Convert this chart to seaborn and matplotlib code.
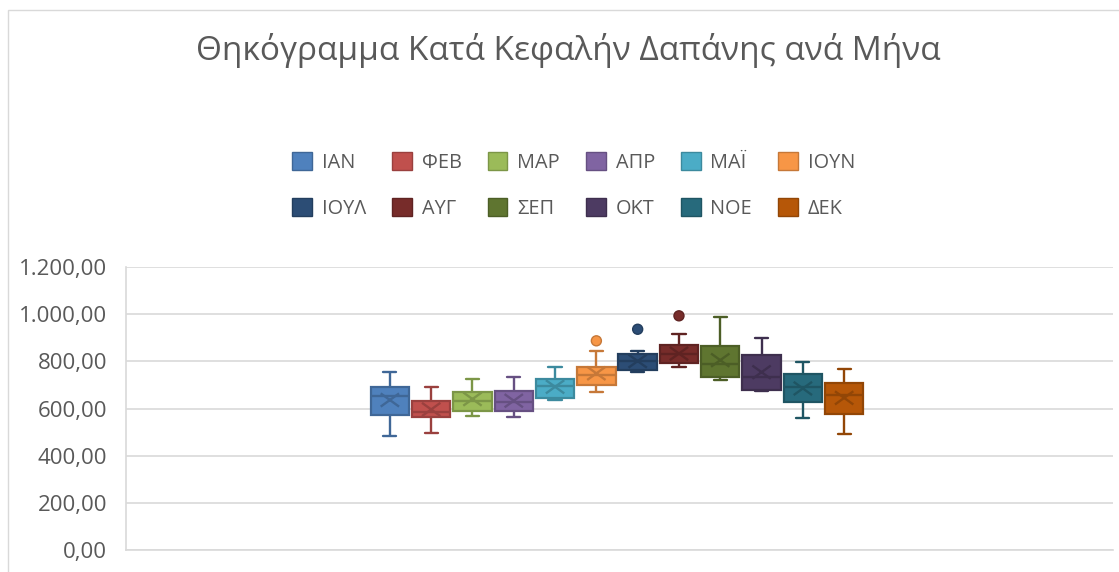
import numpy as np
import pandas as pd
import matplotlib
matplotlib.use("Agg")
import matplotlib.pyplot as plt
import seaborn as sns
from matplotlib.patches import Patch, Rectangle
from matplotlib.path import Path
from matplotlib.ticker import FuncFormatter

# ---------------- data ----------------
months = ['ΙΑΝ', 'ΦΕΒ', 'ΜΑΡ', 'ΑΠΡ', 'ΜΑΪ', 'ΙΟΥΝ',
          'ΙΟΥΛ', 'ΑΥΓ', 'ΣΕΠ', 'ΟΚΤ', 'ΝΟΕ', 'ΔΕΚ']
whisker_low  = [483, 496, 568, 566, 636, 671, 753, 778, 719, 674, 559, 493]
q1           = [572, 565, 590, 588, 643, 699, 763, 791, 733, 679, 628, 575]
median       = [654, 586, 633, 626, 697, 741, 801, 829, 787, 734, 691, 657]
q3           = [692, 633, 669, 674, 727, 774, 833, 869, 864, 828, 746, 708]
whisker_high = [754, 692, 727, 733, 774, 843, 843, 914, 987, 900, 798, 767]
means        = [636, 596, 640, 633, 692, 749, 801, 833, 805, 754, 685, 645]
outlier_month = ['ΙΟΥΝ', 'ΙΟΥΛ', 'ΑΥΓ']
outlier_value = [887, 936, 993]

title = 'Θηκόγραμμα Κατά Κεφαλήν Δαπάνης ανά Μήνα'
yticks = [0, 200, 400, 600, 800, 1000, 1200]

colors = ['#4F81BD', '#C0504D', '#9BBB59', '#8064A2', '#4BACC6', '#F79646',
          '#2C4D75', '#772C2A', '#5F7530', '#4D3B62', '#276A7C', '#B65708']


def darker(c, f=0.8):
    r, g, b = matplotlib.colors.to_rgb(c)
    return (r * f, g * f, b * f)


dark = [darker(c) for c in colors]

# ---------------- style ----------------
sns.set_theme(style="white")
plt.rcParams['font.family'] = ['Open Sans', 'DejaVu Sans']
TXT = '#595959'
GRID = '#D9D9D9'

W, H = 1119, 572
fig = plt.figure(figsize=(W / 100, H / 100), dpi=100)
fig.patch.set_facecolor('white')
fig.patches.append(Rectangle((8 / W, -0.05), 1.2, (H - 10) / H + 0.05,
                             transform=fig.transFigure, fill=False,
                             edgecolor=GRID, linewidth=1.0))

ax = fig.add_axes([126 / W, 1 - 550 / H, (1113 - 126) / W, (550 - 267) / H])

df = pd.DataFrame({
    'month': np.repeat(months, 5),
    'value': np.column_stack([whisker_low, q1, median, q3, whisker_high]).ravel(),
})

sns.boxplot(data=df, x='month', y='value', hue='month', order=months,
            hue_order=months, palette=colors, width=0.93, whis=(0, 100),
            showfliers=False, legend=False, linewidth=1.5, ax=ax)

# recolour artists per box (Excel-like: fill + darker outline/lines)
for cont in ax.containers:
    for b in getattr(cont, 'boxes', []):
        i = int(round(np.mean(b.get_path().vertices[:, 0])))
        b.set_facecolor(colors[i])
        b.set_edgecolor(dark[i])
        b.set_linewidth(1.6)
    for grp in ('whiskers', 'caps', 'medians'):
        for ln in getattr(cont, grp, []):
            xd = np.asarray(ln.get_xdata(), dtype=float)
            i = int(round(xd.mean()))
            ln.set_color(dark[i])
            ln.set_linewidth(1.7)
            if grp == 'caps':
                ln.set_xdata([i - 0.16, i + 0.16])

pos = np.arange(len(months))
xmark = Path([(-1, -0.72), (1, 0.72), (-1, 0.72), (1, -0.72)],
             [Path.MOVETO, Path.LINETO, Path.MOVETO, Path.LINETO])
ax.scatter(pos, means, marker=xmark, s=175, facecolors='none',
           edgecolors=dark, linewidths=1.7, zorder=5)

opos = [months.index(m) for m in outlier_month]
ax.scatter(opos, outlier_value, marker='o', s=52,
           facecolors=[colors[i] for i in opos],
           edgecolors=[dark[i] for i in opos], linewidths=1.0, zorder=5)

# axes
ax.set_ylim(0, 1200)
ax.set_xlim(-6.39, 17.51)
ax.set_yticks(yticks)
ax.yaxis.set_major_formatter(FuncFormatter(
    lambda v, p: f"{v:,.2f}".replace(',', 'X').replace('.', ',').replace('X', '.')))
ax.set_xticks([])
ax.set_xlabel('')
ax.set_ylabel('')
ax.tick_params(axis='y', length=0, pad=13.5, labelsize=16, labelcolor=TXT)
ax.yaxis.grid(True, color=GRID, linewidth=1.2)
ax.set_axisbelow(True)
for s in ('top', 'right'):
    ax.spines[s].set_visible(False)
for s in ('left', 'bottom'):
    ax.spines[s].set_color(GRID)
    ax.spines[s].set_linewidth(1.2)

# title
fig.text(568 / W, 1 - 50 / H, title, ha='center', va='center',
         fontsize=24, color=TXT)

# legend (row-wise order like Excel: reorder for matplotlib's column filling)
ncol = 6
order = [r * ncol + c for c in range(ncol) for r in range(2)]
handles = [Patch(facecolor=colors[i], edgecolor=dark[i], linewidth=1.0) for i in order]
labels = [months[i] for i in order]
leg = fig.legend(handles, labels, loc='center',
                 bbox_to_anchor=(573.5 / W, 1 - 185.5 / H),
                 bbox_transform=fig.transFigure, ncol=ncol, frameon=False,
                 fontsize=14.3, handlelength=1.0, handleheight=1.0,
                 handletextpad=0.5, columnspacing=1.3, labelspacing=1.3,
                 labelcolor=TXT)

fig.savefig('out.png', dpi=100)
